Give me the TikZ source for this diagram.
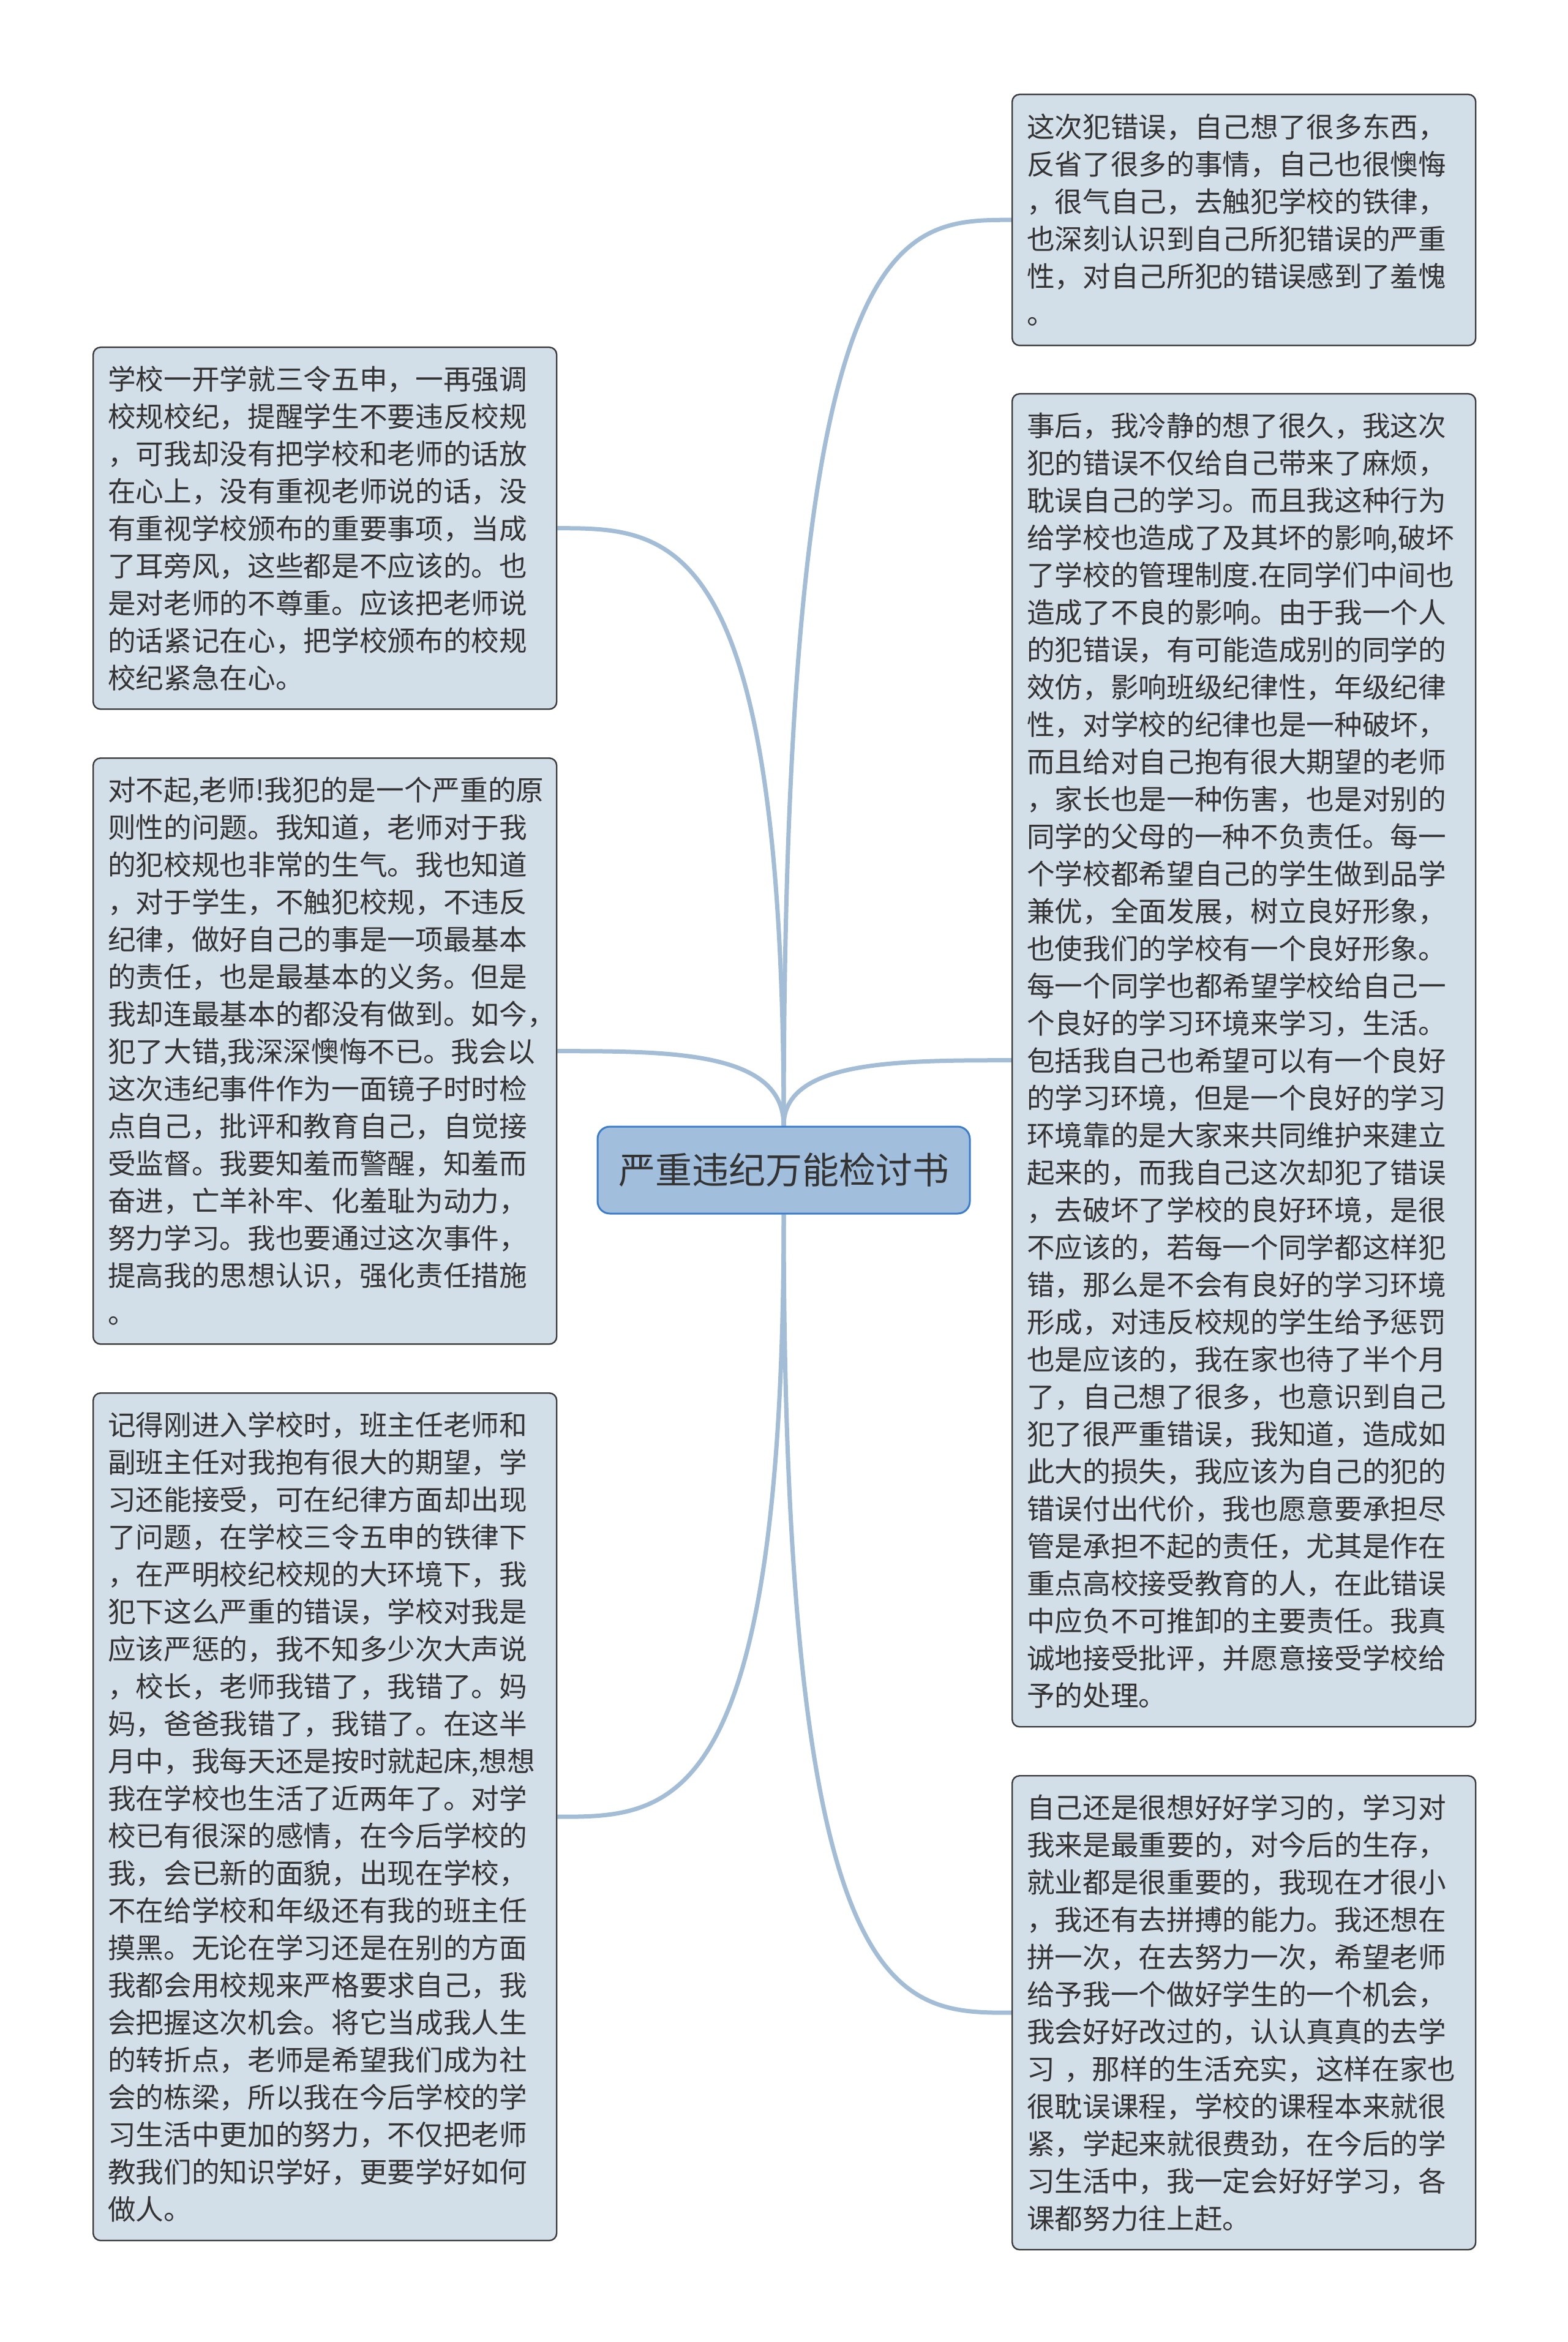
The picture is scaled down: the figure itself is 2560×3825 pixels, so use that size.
\documentclass[tikz,border=0pt]{standalone}
\usepackage{fontspec}
\newfontfamily\cjk{Noto Sans CJK SC}
\usetikzlibrary{calc,backgrounds}
\newlength\pxu \setlength\pxu{0.3pt}
\definecolor{boxfill}{RGB}{211,223,232}
\definecolor{boxline}{RGB}{58,58,58}
\definecolor{centerfill}{RGB}{161,191,221}
\definecolor{centerline}{RGB}{61,123,203}
\definecolor{linkc}{RGB}{163,189,214}
\definecolor{textc}{RGB}{51,51,51}
\tikzset{
  txtbox/.style={draw=boxline, line width=2.4\pxu, fill=boxfill, rounded corners=12\pxu,
    anchor=north west, text width=709\pxu, inner xsep=24\pxu, inner ysep=0pt,
    minimum width=757\pxu, align=left, text=textc,
    font={\cjk\fontsize{13.7}{18.3}\selectfont}},
  rootbox/.style={draw=centerline, line width=3\pxu, fill=centerfill, rounded corners=20\pxu,
    minimum width=608\pxu, minimum height=142\pxu, inner sep=0pt, text=textc,
    font={\cjk\fontsize{18}{22}\selectfont}},
  link/.style={draw=linkc, line width=7\pxu},
}
\begin{document}
\begin{tikzpicture}[x=0.3pt,y=-0.3pt]
\useasboundingbox (0,0) rectangle (2560,3825);

\node[rootbox] (c) at (1280,1911) {严重违纪万能检讨书};

\node[txtbox, minimum height=591\pxu] (l1) at (151,566) {学校一开学就三令五申，一再强调\\校规校纪，提醒学生不要违反校规\\，可我却没有把学校和老师的话放\\在心上，没有重视老师说的话，没\\有重视学校颁布的重要事项，当成\\了耳旁风，这些都是不应该的。也\\是对老师的不尊重。应该把老师说\\的话紧记在心，把学校颁布的校规\\校纪紧急在心。};

\node[txtbox, minimum height=957\pxu] (l2) at (151,1237) {对不起,老师!我犯的是一个严重的原\\则性的问题。我知道，老师对于我\\的犯校规也非常的生气。我也知道\\，对于学生，不触犯校规，不违反\\纪律，做好自己的事是一项最基本\\的责任，也是最基本的义务。但是\\我却连最基本的都没有做到。如今，\\犯了大错,我深深懊悔不已。我会以\\这次违纪事件作为一面镜子时时检\\点自己，批评和教育自己，自觉接\\受监督。我要知羞而警醒，知羞而\\奋进，亡羊补牢、化羞耻为动力，\\努力学习。我也要通过这次事件，\\提高我的思想认识，强化责任措施\\。};

\node[txtbox, minimum height=1384\pxu] (l3) at (151,2274) {记得刚进入学校时，班主任老师和\\副班主任对我抱有很大的期望，学\\习还能接受，可在纪律方面却出现\\了问题，在学校三令五申的铁律下\\，在严明校纪校规的大环境下，我\\犯下这么严重的错误，学校对我是\\应该严惩的，我不知多少次大声说\\，校长，老师我错了，我错了。妈\\妈，爸爸我错了，我错了。在这半\\月中，我每天还是按时就起床,想想\\我在学校也生活了近两年了。对学\\校已有很深的感情，在今后学校的\\我，会已新的面貌，出现在学校，\\不在给学校和年级还有我的班主任\\摸黑。无论在学习还是在别的方面\\我都会用校规来严格要求自己，我\\会把握这次机会。将它当成我人生\\的转折点，老师是希望我们成为社\\会的栋梁，所以我在今后学校的学\\习生活中更加的努力，不仅把老师\\教我们的知识学好，更要学好如何\\做人。};

\node[txtbox, minimum height=410\pxu] (r1) at (1652,153) {这次犯错误，自己想了很多东西，\\反省了很多的事情，自己也很懊悔\\，很气自己，去触犯学校的铁律，\\也深刻认识到自己所犯错误的严重\\性，对自己所犯的错误感到了羞愧\\。};

\node[txtbox, minimum height=2177\pxu] (r2) at (1652,642) {事后，我冷静的想了很久，我这次\\犯的错误不仅给自己带来了麻烦，\\耽误自己的学习。而且我这种行为\\给学校也造成了及其坏的影响,破坏\\了学校的管理制度.在同学们中间也\\造成了不良的影响。由于我一个人\\的犯错误，有可能造成别的同学的\\效仿，影响班级纪律性，年级纪律\\性，对学校的纪律也是一种破坏，\\而且给对自己抱有很大期望的老师\\，家长也是一种伤害，也是对别的\\同学的父母的一种不负责任。每一\\个学校都希望自己的学生做到品学\\兼优，全面发展，树立良好形象，\\也使我们的学校有一个良好形象。\\每一个同学也都希望学校给自己一\\个良好的学习环境来学习，生活。\\包括我自己也希望可以有一个良好\\的学习环境，但是一个良好的学习\\环境靠的是大家来共同维护来建立\\起来的，而我自己这次却犯了错误\\，去破坏了学校的良好环境，是很\\不应该的，若每一个同学都这样犯\\错，那么是不会有良好的学习环境\\形成，对违反校规的学生给予惩罚\\也是应该的，我在家也待了半个月\\了，自己想了很多，也意识到自己\\犯了很严重错误，我知道，造成如\\此大的损失，我应该为自己的犯的\\错误付出代价，我也愿意要承担尽\\管是承担不起的责任，尤其是作在\\重点高校接受教育的人，在此错误\\中应负不可推卸的主要责任。我真\\诚地接受批评，并愿意接受学校给\\予的处理。};

\node[txtbox, minimum height=774\pxu] (r3) at (1652,2899) {自己还是很想好好学习的，学习对\\我来是最重要的，对今后的生存，\\就业都是很重要的，我现在才很小\\，我还有去拼搏的能力。我还想在\\拼一次，在去努力一次，希望老师\\给予我一个做好学生的一个机会，\\我会好好改过的，认认真真的去学\\习 ，那样的生活充实，这样在家也\\很耽误课程，学校的课程本来就很\\紧，学起来就很费劲，在今后的学\\习生活中，我一定会好好学习，各\\课都努力往上赶。};

\begin{scope}[on background layer]
\fill[white] (0,0) rectangle (2560,3825);
\draw[link] (c.north) .. controls ($(c.north|-l1.east)$) and ($(c.north|-l1.east)!0.5!(l1.east)$) .. (l1.east);
\draw[link] (c.north) .. controls ($(c.north|-l2.east)$) and ($(c.north|-l2.east)!0.5!(l2.east)$) .. (l2.east);
\draw[link] (c.south) .. controls ($(c.south|-l3.east)$) and ($(c.south|-l3.east)!0.5!(l3.east)$) .. (l3.east);
\draw[link] (c.north) .. controls ($(c.north|-r1.west)$) and ($(c.north|-r1.west)!0.5!(r1.west)$) .. (r1.west);
\draw[link] (c.north) .. controls ($(c.north|-r2.west)$) and ($(c.north|-r2.west)!0.5!(r2.west)$) .. (r2.west);
\draw[link] (c.south) .. controls ($(c.south|-r3.west)$) and ($(c.south|-r3.west)!0.5!(r3.west)$) .. (r3.west);
\end{scope}
\end{tikzpicture}
\end{document}
